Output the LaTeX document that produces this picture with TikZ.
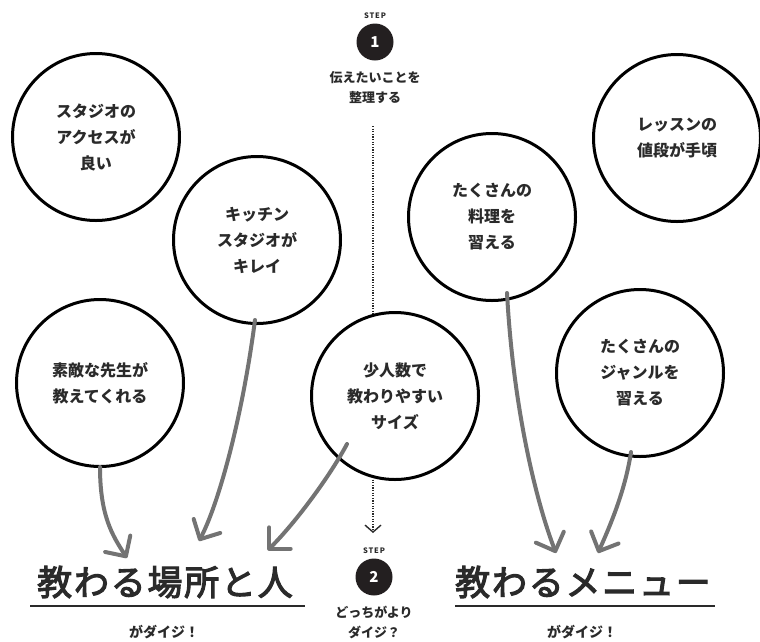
\documentclass[tikz,border=0pt]{standalone}
\usepackage{fontspec}
\setmainfont{Noto Sans CJK JP}
\newfontfamily\titlefont{Noto Sans CJK JP}[LetterSpace=5]
\newfontfamily\stepfont{Noto Sans CJK JP}[LetterSpace=12]
\newcommand{\heavytext}[1]{\special{pdf:literal direct 2 Tr 1.1 w}#1\special{pdf:literal direct 0 Tr}}
\usetikzlibrary{arrows.meta}
\definecolor{txt}{HTML}{2A2A2A}
\definecolor{arr}{HTML}{737373}
\definecolor{stepfill}{HTML}{231F20}
\begin{document}
\begin{tikzpicture}[x=1pt,y=-1pt,
  bubble/.style={circle, draw=black, fill=white, line width=3pt, minimum size=167pt, inner sep=0pt,
    align=center, text=txt, font=\fontsize{16}{26}\selectfont\bfseries},
  garrow/.style={draw=arr, line width=4pt, line cap=round,
    -{Straight Barb[length=15pt,width=30pt,line cap=round,line join=round]}},
  stepdot/.style={circle, fill=stepfill, minimum size=37pt, inner sep=0pt,
    text=white, font=\fontsize{15}{15}\selectfont\bfseries},
  steplabel/.style={text=txt, font=\stepfont\fontsize{7.5}{7.5}\selectfont\bfseries},
  steptext/.style={text=txt, align=center, font=\fontsize{13}{20}\selectfont\bfseries},
  title/.style={text=txt, font=\titlefont\fontsize{35}{40}\selectfont},
  subtitle/.style={text=txt, font=\fontsize{14}{14}\selectfont\bfseries},
  uline/.style={draw=txt, line width=2pt},
  dotline/.style={draw=txt, line width=1.4pt, dash pattern=on 1.2pt off 1.4pt,
    -{Straight Barb[length=7pt,width=16pt]}}
]
\useasboundingbox (0,0) rectangle (760,641);

% dotted connector (behind the circles)
\coordinate (d1) at (373,126);
\coordinate (d2) at (373,533);
\draw[dotline] (d1) -- (d2);

% circles
\node[bubble] (c1) at (96,137) {スタジオの\\アクセスが\\良い};
\node[bubble] (c2) at (257,240) {キッチン\\スタジオが\\キレイ};
\node[bubble] (c3) at (100,383) {素敵な先生が\\教えてくれる};
\node[bubble] (c4) at (395,396) {少人数で\\教わりやすい\\サイズ};
\node[bubble] (c6) at (492,217) {たくさんの\\料理を\\習える};
\node[bubble] (c5) at (640,373) {たくさんの\\ジャンルを\\習える};
\node[bubble] (c7) at (677,138) {レッスンの\\値段が手頃};

% step 1
\node[steplabel] (s1l) at (375,16) {STEP};
\node[stepdot] (s1) at (375,42) {1};
\node[steptext] (s1t) at (375,88) {伝えたいことを\\整理する};

% step 2
\node[steplabel] (s2l) at (374,551) {STEP};
\node[stepdot] (s2) at (374,577) {2};
\node[steptext] (s2t) at (374,622) {どっちがより\\ダイジ？};

% titles
\node[title] (tl) at (165,582) {\heavytext{教わる場所と人}};
\node[subtitle] (sl) at (164,632) {がダイジ！};
\draw[uline] (30,606) -- (305,606);

\node[title] (tr) at (583,582) {\heavytext{教わるメニュー}};
\node[subtitle] (sr) at (582,632) {がダイジ！};
\draw[uline] (455,606) -- (715,606);

% arrow tips
\coordinate (t1) at (127,558);
\coordinate (t2) at (199,541);
\coordinate (t3) at (268,550);
\coordinate (t4) at (556,553);
\coordinate (t5) at (598,553);

% arrows
\draw[garrow] ([shift={(0,84)}]c3.center) .. controls (100,515) and (112,535) .. (t1);
\draw[garrow] ([shift={(-2,80)}]c2.center) .. controls (242,420) and (218,505) .. (t2);
\draw[garrow] ([shift={(-48,48)}]c4.center) .. controls (330,476) and (296,522) .. (t3);
\draw[garrow] ([shift={(15,76)}]c6.center) .. controls (514,420) and (540,512) .. (t4);
\draw[garrow] ([shift={(-9,79)}]c5.center) .. controls (625,492) and (609,528) .. (t5);
\end{tikzpicture}
\end{document}
